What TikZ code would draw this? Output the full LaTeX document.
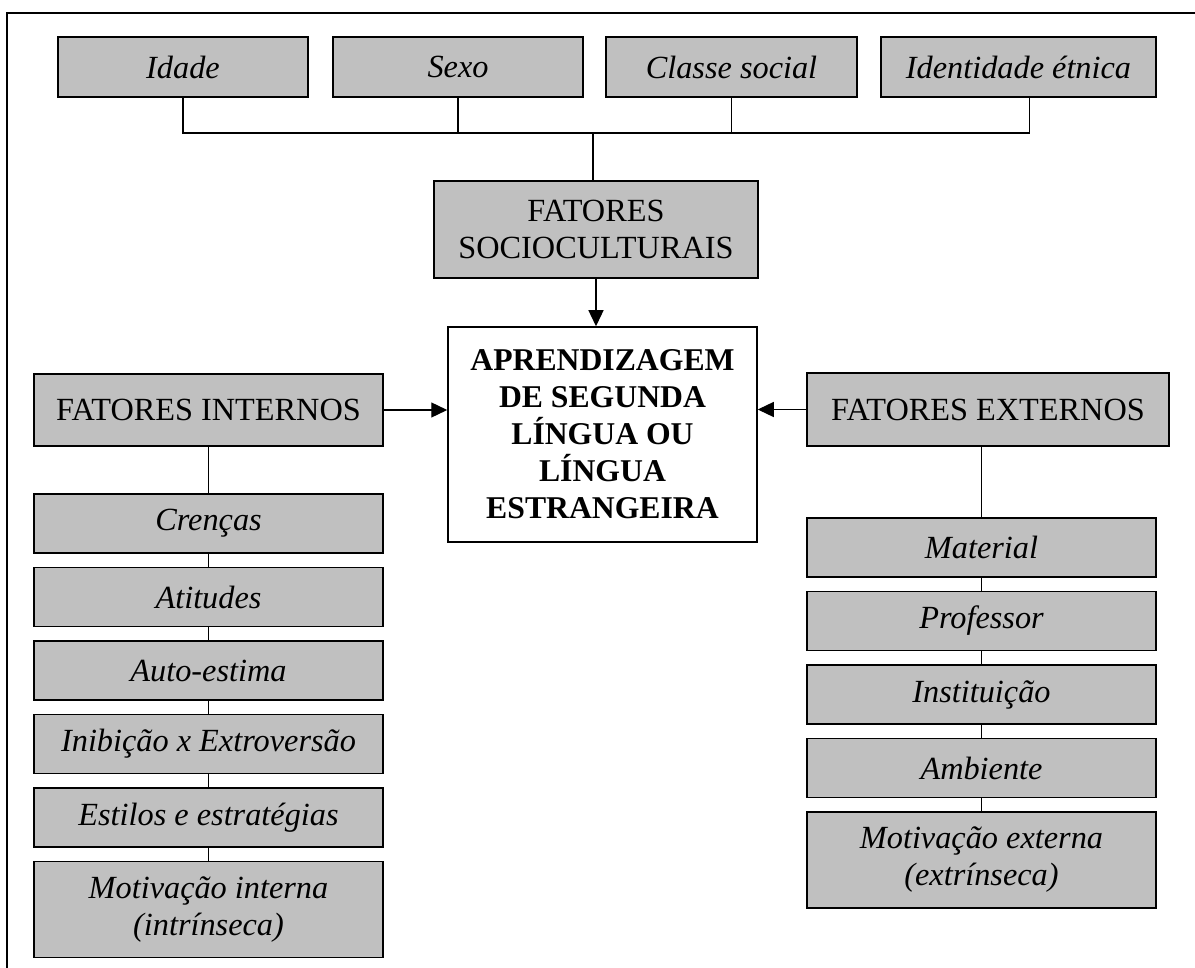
\documentclass[tikz,border=0pt]{standalone}
\usepackage{fontspec}
\setmainfont{Liberation Serif}
\usepackage{tikz}
\usetikzlibrary{arrows.meta,positioning,calc}

\definecolor{cinza}{HTML}{C0C0C0}

\begin{document}
\begin{tikzpicture}[x=1pt,y=-1pt,
  every node/.style={font=\fontsize{32.3}{37}\selectfont, align=center, inner sep=0pt},
  caixa/.style={draw, line width=1.5pt, fill=cinza, rectangle, minimum height=59pt},
  item/.style={caixa, minimum width=349pt, font=\fontsize{32.3}{37}\selectfont\itshape},
  topo/.style={caixa, minimum height=60pt, font=\fontsize{32.3}{37}\selectfont\itshape},
  liga/.style={line width=1.3pt},
  seta/.style={liga, -{Triangle[length=16pt,width=15pt]}},
  node distance=13pt]
\useasboundingbox (0,0) rectangle (1195,968);
\draw[line width=1.3pt] (7,968) -- (7,13) -- (1195,13);

% fatores socioculturais
\node[topo, minimum width=250pt] (idade)  at (183,67)    {Idade};
\node[topo, minimum width=250pt] (sexo)   at (458,67)    {Sexo};
\node[topo, minimum width=251pt] (classe) at (731.5,67)  {Classe social};
\node[topo, minimum width=275pt] (ident)  at (1018.5,67) {Identidade étnica};
\node[caixa, minimum width=324pt, minimum height=97pt] (socio) at (596,229.5) {FATORES\\SOCIOCULTURAIS};
\coordinate (bus) at (593,133);

\node[draw, line width=1.5pt, fill=white, minimum width=309pt, minimum height=215pt,
      font=\fontsize{31.7}{37}\selectfont\bfseries] (centro) at (602.5,434.5)
      {APRENDIZAGEM\\DE SEGUNDA\\LÍNGUA OU\\LÍNGUA\\ESTRANGEIRA};

\node[caixa, minimum width=349pt, minimum height=72pt] (internos) at (208.5,410) {FATORES INTERNOS};
\node[caixa, minimum width=362pt, minimum height=73pt] (externos) at (988,409.5) {FATORES EXTERNOS};

% fatores internos
\node[item] (crencas) at (208.5,523.5) {Crenças};
\node[item, below=of crencas]  (atitudes) {Atitudes};
\node[item, below=of atitudes] (auto)     {Auto-estima};
\node[item, below=of auto]     (inibicao) {Inibição x Extroversão};
\node[item, below=of inibicao] (estilos)  {Estilos e estratégias};
\node[item, below=of estilos, minimum height=96pt] (motint) {Motivação interna\\(intrínseca)};

% fatores externos
\node[item] (material) at (981.5,547.5) {Material};
\node[item, below=of material]    (professor)   {Professor};
\node[item, below=of professor]   (instituicao) {Instituição};
\node[item, below=of instituicao] (ambiente)    {Ambiente};
\node[item, below=of ambiente, minimum height=96pt] (motext) {Motivação externa\\(extrínseca)};

\draw[liga] (idade.south) |- ([xshift=11pt]ident.south |- bus) -- ([xshift=11pt]ident.south);
\draw[liga] (sexo.south) -- (sexo.south |- bus);
\draw[liga] (classe.south) -- (classe.south |- bus);
\draw[liga] (bus) -- (bus |- socio.north);

\draw[seta] (socio.south) -- (socio.south |- centro.north);
\draw[seta] (internos.east) -- (internos.east -| centro.west);
\draw[seta] (externos.west) -- (externos.west -| centro.east);

\draw[liga] (internos) -- (crencas);
\draw[liga] (material.north) -- (material.north |- externos.south);
\foreach \a/\b in {crencas/atitudes, atitudes/auto, auto/inibicao, inibicao/estilos, estilos/motint,
                   material/professor, professor/instituicao, instituicao/ambiente, ambiente/motext}
  \draw[liga] (\a) -- (\b);
\end{tikzpicture}
\end{document}
